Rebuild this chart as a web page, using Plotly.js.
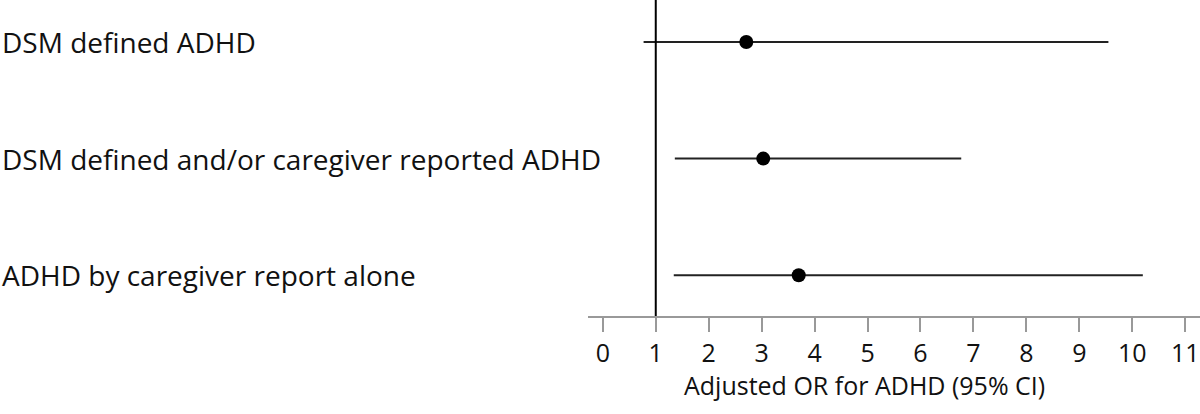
<!DOCTYPE html>
<html>
<head>
<meta charset="utf-8">
<script src="https://cdn.plot.ly/plotly-3.0.1.min.js"></script>
<style>
  html, body { margin: 0; padding: 0; background: #fff; }
  #chart { width: 1200px; height: 414px; }
</style>
</head>
<body>
<div id="chart"></div>
<script>
// outcomes, top to bottom
var outcomes = ["DSM defined ADHD", "DSM defined and/or caregiver reported ADHD", "ADHD by caregiver report alone"]
var or_est = [2.71, 3.03, 3.70]
var ci_low = [0.77, 1.36, 1.34]
var ci_high = [9.55, 6.77, 10.20]
var xticks = [0, 1, 2, 3, 4, 5, 6, 7, 8, 9, 10, 11]
var xtitle = "Adjusted OR for ADHD (95% CI)"

var rows = outcomes.map(function(d, i){ return i })
var plus = or_est.map(function(v, i){ return ci_high[i] - v })
var minus = or_est.map(function(v, i){ return v - ci_low[i] })

var margin_l = 588
var plot_w = 1200 - margin_l
var plot_h = 316

var trace = {
  x: or_est,
  y: rows,
  mode: "markers",
  type: "scatter",
  marker: {color: "#000", size: 14},
  error_x: {type: "data", array: plus, arrayminus: minus, symmetric: false,
            color: "#222", thickness: 2, width: 0},
  hoverinfo: "skip",
  showlegend: false
}

// outcome labels, left aligned at the page edge
var labels = outcomes.map(function(txt, i){
  return {
    text: txt, xref: "paper", yref: "y",
    x: -margin_l / plot_w, y: i,
    xanchor: "left", yanchor: "middle",
    showarrow: false,
    font: {family: "Open Sans, sans-serif", size: 28, color: "#111"}
  }
})
// x axis title sits a little left of the plot centre in the original
labels.push({
  text: xtitle, xref: "paper", yref: "paper",
  x: 0.451, y: -69 / plot_h,
  xanchor: "center", yanchor: "middle",
  showarrow: false,
  font: {family: "Open Sans, sans-serif", size: 25, color: "#111"}
})

var layout = {
  width: 1200, height: 414,
  margin: {l: margin_l, r: 0, t: 0, b: 414 - plot_h},
  paper_bgcolor: "#fff",
  plot_bgcolor: "#fff",
  font: {family: "Open Sans, sans-serif", color: "#111"},
  xaxis: {
    range: [-0.28, 11.28],
    tickvals: xticks,
    ticks: "outside", ticklen: 14, tickwidth: 2, tickcolor: "#999",
    showline: true, linecolor: "#999", linewidth: 2,
    showgrid: false, zeroline: false,
    tickfont: {size: 25, color: "#111"}
  },
  yaxis: {
    range: [2.35, -0.36],
    showticklabels: false, showgrid: false, zeroline: false,
    showline: false, ticks: ""
  },
  shapes: [{
    type: "line", xref: "x", yref: "paper",
    x0: 1, x1: 1, y0: 0, y1: 1,
    line: {color: "#000", width: 2}
  }],
  annotations: labels
}

Plotly.newPlot("chart", [trace], layout, {displayModeBar: false, staticPlot: true})
</script>
</body>
</html>
